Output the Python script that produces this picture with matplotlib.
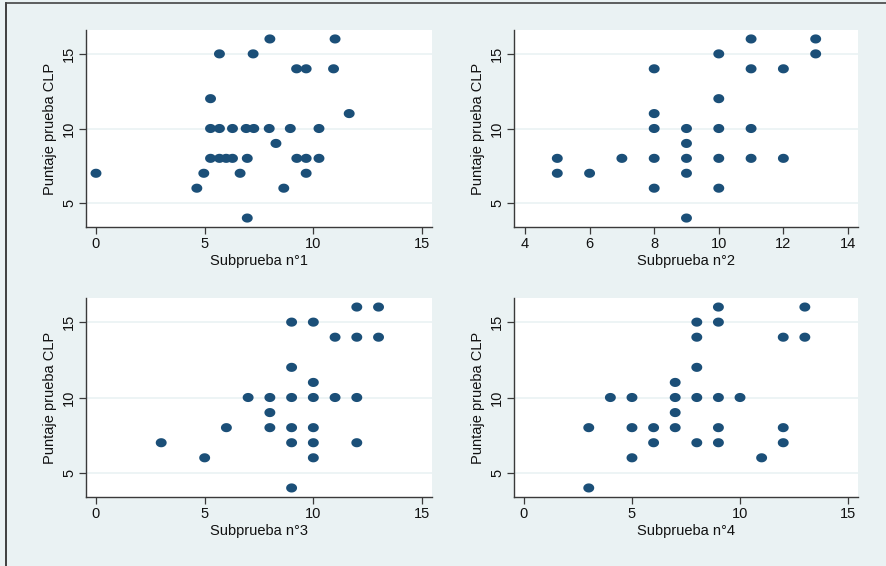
import numpy as np
import matplotlib
matplotlib.use("Agg")
import matplotlib.pyplot as plt
from matplotlib.path import Path
from matplotlib.lines import Line2D

# ---- data ----
s1_x = [8, 11, 5.68, 7.23, 9.23, 9.67, 10.93, 5.27, 11.65,
        5.27, 5.68, 6.28, 6.91, 7.26, 7.97, 8.94, 10.26,
        8.28,
        5.27, 5.68, 5.99, 6.28, 6.96, 9.24, 9.67, 10.26,
        0, 4.96, 6.63, 9.67,
        4.64, 8.64,
        6.96]
s1_y = [16, 16, 15, 15, 14, 14, 14, 12, 11,
        10, 10, 10, 10, 10, 10, 10, 10,
        9,
        8, 8, 8, 8, 8, 8, 8, 8,
        7, 7, 7, 7,
        6, 6,
        4]

s2_x = [11, 13, 10, 13, 8, 11, 12, 10, 8,
        8, 9, 10, 11,
        9,
        5, 7, 8, 9, 10, 11, 12,
        5, 6, 9,
        8, 10,
        9]
s2_y = [16, 16, 15, 15, 14, 14, 14, 12, 11,
        10, 10, 10, 10,
        9,
        8, 8, 8, 8, 8, 8, 8,
        7, 7, 7,
        6, 6,
        4]

s3_x = [12, 13, 9, 10, 11, 12, 13, 9, 10,
        7, 8, 9, 10, 11, 12,
        8,
        6, 8, 9, 10,
        3, 9, 10, 12,
        5, 10,
        9]
s3_y = [16, 16, 15, 15, 14, 14, 14, 12, 11,
        10, 10, 10, 10, 10, 10,
        9,
        8, 8, 8, 8,
        7, 7, 7, 7,
        6, 6,
        4]

s4_x = [9, 13, 8, 9, 8, 12, 13, 8, 7,
        4, 5, 7, 8, 9, 10,
        7,
        3, 5, 6, 7, 9, 12,
        6, 8, 9, 12,
        5, 11,
        3]
s4_y = [16, 16, 15, 15, 14, 14, 14, 12, 11,
        10, 10, 10, 10, 10, 10,
        9,
        8, 8, 8, 8, 8, 8,
        7, 7, 7, 7,
        6, 6,
        4]

x_labels = ["Subprueba n°1", "Subprueba n°2", "Subprueba n°3", "Subprueba n°4"]
y_label = "Puntaje prueba CLP"
x_ticks = [[0, 5, 10, 15], [4, 6, 8, 10, 12, 14], [0, 5, 10, 15], [0, 5, 10, 15]]
y_ticks = [5, 10, 15]

# ---- style ----
plt.rcParams['font.family'] = ['Liberation Sans', 'DejaVu Sans']
BG = "#EAF2F3"
MC = "#1B4F78"

theta = np.linspace(0, 2 * np.pi, 41)
ell = Path(np.column_stack([1.2 * np.cos(theta), np.sin(theta)]), closed=True)

fig = plt.figure(figsize=(8.86, 5.66), dpi=100, facecolor=BG)

W, H = 886, 566
boxes = [(86, 432, 30, 227), (514, 858, 30, 227), (86, 432, 298, 497), (514, 858, 298, 497)]
xlims = [(-0.46, 15.46), (3.66, 14.31), (-0.46, 15.46), (-0.46, 15.46)]
ylim = (3.4, 16.6)
data = [(s1_x, s1_y), (s2_x, s2_y), (s3_x, s3_y), (s4_x, s4_y)]

for i, (l, r, t, b) in enumerate(boxes):
    ax = fig.add_axes([l / W, 1 - b / H, (r - l) / W, (b - t) / H])
    ax.set_facecolor("white")
    ax.set_xlim(*xlims[i])
    ax.set_ylim(*ylim)
    ax.set_xticks(x_ticks[i])
    ax.set_yticks(y_ticks)
    for v in y_ticks:
        ax.axhline(v, color=BG, lw=1.2, zorder=0)
    x, y = data[i]
    ax.scatter(x, y, s=62, marker=ell, color=MC, edgecolors="none", zorder=3)
    for s in ("top", "right"):
        ax.spines[s].set_visible(False)
    for s in ("left", "bottom"):
        ax.spines[s].set_color("#3a3a3a")
        ax.spines[s].set_linewidth(1.0)
    ax.tick_params(axis="both", direction="out", length=5, width=0.9, color="#3a3a3a",
                   labelsize=10.5, labelcolor="#111111", pad=2)
    for lab in ax.get_yticklabels():
        lab.set_rotation(90)
        lab.set_va("center")
    ax.set_xlabel(x_labels[i], fontsize=10.5, labelpad=2, color="#111111")
    ax.set_ylabel(y_label, fontsize=10.5, labelpad=4, color="#111111")

# outer frame lines (left and top)
fig.add_artist(Line2D([6 / W, 6 / W], [0, 1 - 3 / H], color="#222222", lw=1.2))
fig.add_artist(Line2D([6 / W, 1], [1 - 3 / H, 1 - 3 / H], color="#444444", lw=1.2))

fig.savefig("out.png", dpi=100, facecolor=BG)
